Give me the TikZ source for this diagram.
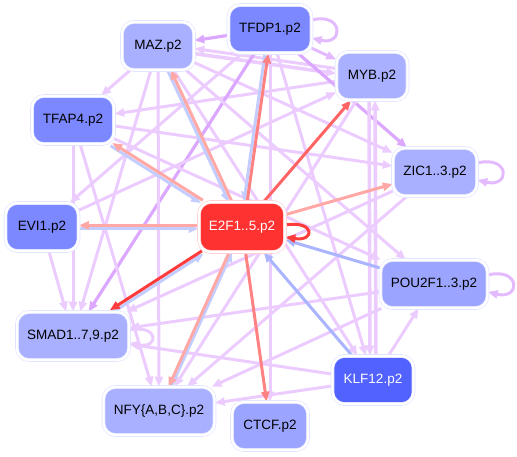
\documentclass[tikz,border=0pt]{standalone}
\usepackage{fontspec}
\setmainfont{Liberation Sans}
\usetikzlibrary{arrows.meta}
\pgfdeclarelayer{edges}
\pgfsetlayers{edges,main}
\definecolor{cL}{RGB}{168,176,255}
\definecolor{cM}{RGB}{123,136,255}
\definecolor{cP}{RGB}{155,165,255}
\definecolor{cK}{RGB}{82,98,255}
\definecolor{cR}{RGB}{255,50,50}
\definecolor{ring}{RGB}{222,226,255}
\definecolor{ringr}{RGB}{255,205,205}
\definecolor{pl}{RGB}{236,204,255}
\definecolor{pmm}{RGB}{228,186,255}
\definecolor{pdd}{RGB}{220,168,255}
\definecolor{rd}{RGB}{255,60,60}
\definecolor{rm}{RGB}{255,100,100}
\definecolor{rl}{RGB}{255,130,130}
\definecolor{pk}{RGB}{255,168,165}
\definecolor{bl}{RGB}{195,205,255}
\definecolor{bm}{RGB}{170,180,255}
\begin{document}
\begin{tikzpicture}[x=1pt,y=1pt,
  nb/.style={rounded corners=12pt, minimum height=48pt, inner sep=0pt,
    draw=ring, line width=0.6pt, double=white, double distance=2.4pt,
    font=\fontsize{13.5}{16}\selectfont, text=black},
  tip/.style={-{Triangle[length=10pt,width=8pt]}},
  ea/.style={draw=pl, line width=3pt, tip},
  eb/.style={draw=pmm, line width=3pt, tip},
  ec/.style={draw=pdd, line width=3.2pt, tip},
  er/.style={draw=#1, line width=3pt, tip},
]
\useasboundingbox (0,0) rectangle (517,-456);
% nodes
\node[nb, fill=cM, minimum width=83pt] (tfdp) at (270,-29) {TFDP1.p2};
\node[nb, fill=cL, minimum width=72pt] (maz) at (158,-46) {MAZ.p2};
\node[nb, fill=cL, minimum width=71pt] (myb) at (372,-76) {MYB.p2};
\node[nb, fill=cM, minimum width=82pt] (tfap) at (73,-120) {TFAP4.p2};
\node[nb, fill=cM, minimum width=73pt] (evi) at (42,-227) {EVI1.p2};
\node[nb, fill=cR, draw=ringr, text=white, minimum width=86pt, minimum height=50pt] (e2f) at (242,-227) {E2F1..5.p2};
\node[nb, fill=cL, minimum width=84pt] (zic) at (435,-172) {ZIC1..3.p2};
\node[nb, fill=cP, minimum width=107pt] (pou) at (434,-284) {POU2F1..3.p2};
\node[nb, fill=cL, minimum width=112pt] (smad) at (73,-336) {SMAD1..7,9.p2};
\node[nb, fill=cL, minimum width=111pt] (nfy) at (159,-411) {NFY\{A,B,C\}.p2};
\node[nb, fill=cP, minimum width=76pt] (ctcf) at (270,-426) {CTCF.p2};
\node[nb, fill=cK, text=white, minimum width=81pt] (klf) at (373,-380) {KLF12.p2};
\begin{pgfonlayer}{edges}
% purple edges
\draw[ea, transform canvas={yshift=2.5pt}] (myb) -- (maz);
\draw[ea, line width=3.6pt, transform canvas={yshift=-2.5pt}] (maz) -- (myb);
\draw[ec] (tfdp) -- (maz);
\draw[eb] (tfdp) -- (myb);
\draw[eb] ([yshift=9pt]tfdp.east) .. controls +(32,8) and +(32,-8) .. ([yshift=-9pt]tfdp.east);
\draw[ea] (maz) -- (tfap);
\draw[ea] (myb) -- (tfap);
\draw[ec] (tfdp) -- (zic);
\draw[ea] (maz) -- (zic);
\draw[eb] ([yshift=9pt]zic.east) .. controls +(33,8) and +(33,-8) .. ([yshift=-8pt]zic.east);
\draw[eb] ([yshift=9pt]pou.east) .. controls +(33,8) and +(33,-8) .. ([yshift=-8pt]pou.east);
\draw[ea] ([yshift=6pt]smad.east) .. controls +(30,6) and +(30,-6) .. ([yshift=-7pt]smad.east);
\draw[ea] (klf) -- (pou);
\draw[ea, line width=3.6pt, transform canvas={xshift=-3pt}] (myb) -- (klf);
\draw[ea, line width=3.6pt, transform canvas={xshift=3pt}] (klf) -- (myb);
\draw[ea] (tfdp) -- (klf);
\draw[ea] (maz) -- (klf);
\draw[ea] (zic) -- (nfy);
\draw[ea] (zic) -- (smad);
\draw[ea] (pou) -- (smad);
\draw[ea] (pou) -- (nfy);
\draw[ea] (klf) -- (smad);
\draw[ea] (klf) -- (nfy);
\draw[ea] (evi) -- (smad);
\draw[ea] (tfap) -- (smad);
\draw[ea] (maz) -- (smad);
\draw[ec] (tfdp) -- (smad);
\draw[ea] (tfap) -- (nfy);
\draw[ea] (maz) -- (nfy);
\draw[ea] (tfdp) -- (ctcf);
\draw[ea] (myb) -- (nfy);
\draw[ea] (tfap) -- (pou);
\draw[ea] (maz) -- (pou);
\draw[ea] (evi) -- (myb);
\draw[ea] (tfdp) -- (evi);
\draw[ea] (tfap) -- (zic);
% coloured edges
\draw[er=rm] (e2f) -- (myb);
\draw[er=bl, transform canvas={shift={(0.9pt,-1.4pt)}}] (smad) -- (e2f);
\draw[er=rd, transform canvas={shift={(-0.9pt,1.4pt)}}] (e2f) -- (smad);
\draw[er=bl, transform canvas={yshift=-1.6pt}] (evi) -- (e2f);
\draw[er=pk, transform canvas={yshift=1.6pt}] (e2f) -- (evi);
\draw[er=bl, transform canvas={shift={(-0.9pt,-1.4pt)}}] (tfap) -- (e2f);
\draw[er=pk, transform canvas={shift={(0.9pt,1.4pt)}}] (e2f) -- (tfap);
\draw[er=bl, transform canvas={shift={(-1.4pt,-0.6pt)}}] (maz) -- (e2f);
\draw[er=pk, transform canvas={shift={(1.4pt,0.6pt)}}] (e2f) -- (maz);
\draw[er=bl, transform canvas={xshift=-1.6pt}] (tfdp) -- (e2f);
\draw[er=rl, transform canvas={xshift=1.6pt}] (e2f) -- (tfdp);
\draw[er=bl, transform canvas={shift={(1.5pt,0.4pt)}}] (nfy) -- (e2f);
\draw[er=pk, transform canvas={shift={(-1.5pt,-0.4pt)}}] (e2f) -- (nfy);
\draw[er=pk] (e2f) -- (zic);
\draw[er=bm] (pou) -- (e2f);
\draw[er=bm] (klf) -- (e2f);
\draw[er=rl] (e2f) -- (ctcf);
\draw[er=rd] ([yshift=2pt]e2f.east) .. controls +(30,5) and +(30,-5) .. ([yshift=-10pt]e2f.east);
\end{pgfonlayer}
\end{tikzpicture}
\end{document}
